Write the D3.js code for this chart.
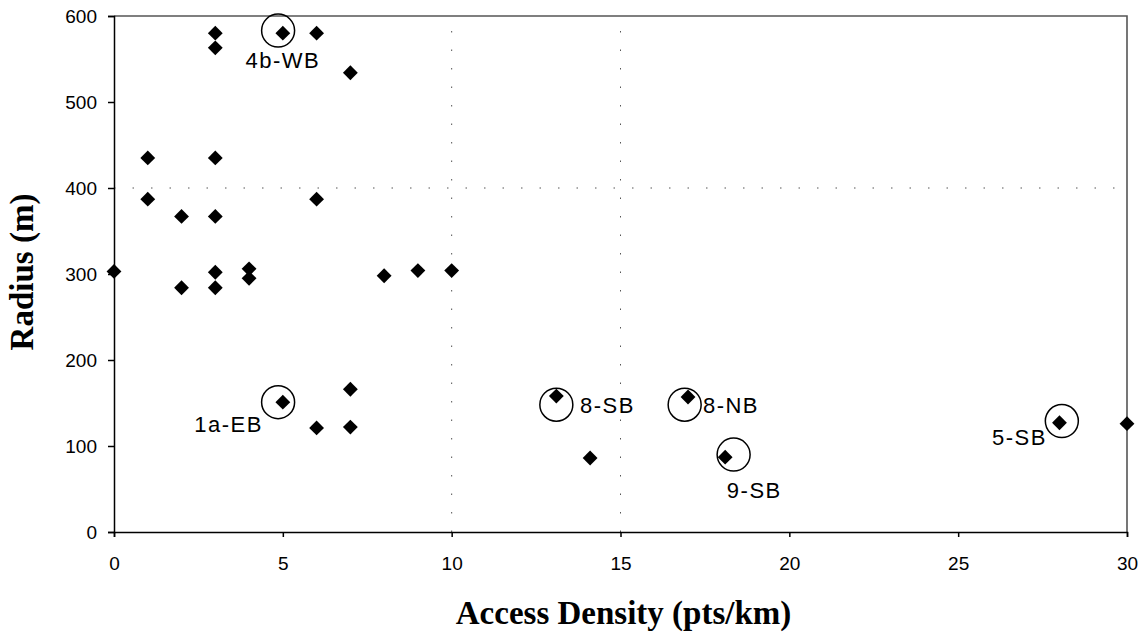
<!DOCTYPE html>
<meta charset="UTF-8">
<title>Radius vs Access Density</title>
<style>
  body { margin: 0; background: #fff; }
  .tick text { font-family: "Liberation Sans", Arial, sans-serif; font-size: 19px; fill: #000; }
  .lbl { font-family: "Liberation Sans", Arial, sans-serif; font-size: 22px; letter-spacing: 1.5px; }
  .title { font-family: "Liberation Serif", "Times New Roman", serif; font-weight: bold; font-size: 33px; }
</style>
<script src="https://d3js.org/d3.v7.min.js"></script>
<body>
<script>
  // access density (pts/km) and radius (m)
  var density = [0, 1, 1, 2, 2, 3, 3, 3, 3, 3, 3, 4, 4, 5, 6, 6, 7, 8, 9, 10,
                 5, 6, 7, 7, 13.1, 14.1, 17, 18.1, 28, 30];
  var radius  = [303, 435, 387, 367, 284, 580, 563, 435, 367, 302, 284, 306, 295, 580, 580, 387, 534, 298, 304, 304,
                 151, 121, 166, 122, 158, 86, 157, 87, 127, 126];

  // circled points: label, circle centre, label anchor (data units)
  var noteNames  = ["4b-WB", "1a-EB", "8-SB", "8-NB", "9-SB", "5-SB"];
  var noteCx     = [4.86, 4.86, 13.1, 16.9, 18.35, 28.07];
  var noteCy     = [583, 151, 148, 148, 90, 129];
  var noteTx     = [5.0, 4.41, 13.8, 17.44, 18.15, 27.63];
  var noteTy     = [540, 116, 138, 138, 40, 101];
  var noteAnchor = ["middle", "end", "start", "start", "start", "end"];

  var xTicks = [0, 5, 10, 15, 20, 25, 30];
  var yTicks = [0, 100, 200, 300, 400, 500, 600];
  var xGrid = [10, 15];
  var yGrid = [400];

  var width = 1145, height = 633;
  var margin = {top: 16, right: 18, bottom: 101, left: 114};

  var svg = d3.select("body").append("svg").attr("width", width).attr("height", height);

  var x = d3.scaleLinear().domain([0, 30]).range([margin.left, width - margin.right]);
  var y = d3.scaleLinear().domain([0, 600]).range([height - margin.bottom, margin.top]);

  // dotted gridlines
  svg.append("g").selectAll("line").data(yGrid).enter().append("line")
    .attr("x1", x(0)).attr("x2", x(30))
    .attr("y1", function(d) { return y(d); }).attr("y2", function(d) { return y(d); })
    .style("stroke", "#555").style("stroke-width", 1).style("stroke-dasharray", "1.5,17");
  svg.append("g").selectAll("line").data(xGrid).enter().append("line")
    .attr("y1", y(0)).attr("y2", y(600))
    .attr("x1", function(d) { return x(d); }).attr("x2", function(d) { return x(d); })
    .style("stroke", "#555").style("stroke-width", 1).style("stroke-dasharray", "1.5,17");

  // top / right border
  svg.append("path")
    .attr("d", "M" + x(0) + "," + y(600) + "H" + x(30) + "V" + y(0))
    .style("fill", "none").style("stroke", "#555").style("stroke-width", 1.6);

  svg.append("g")
    .attr("transform", "translate(0," + y(0) + ")")
    .call(d3.axisBottom(x).tickValues(xTicks).tickSize(5).tickPadding(20))
    .call(function(g) { g.selectAll("path, line").style("stroke", "#000").style("stroke-width", 1.5); });

  svg.append("g")
    .attr("transform", "translate(" + x(0) + ",0)")
    .call(d3.axisLeft(y).tickValues(yTicks).tickSize(6).tickPadding(11))
    .call(function(g) { g.selectAll("path, line").style("stroke", "#000").style("stroke-width", 1.5); });

  // points
  var diamond = d3.symbol().type(d3.symbolSquare).size(110);
  svg.append("g").selectAll("path").data(density).enter().append("path")
    .attr("d", diamond)
    .attr("transform", function(d, i) { return "translate(" + x(d) + "," + y(radius[i]) + ") rotate(45)"; })
    .style("fill", "#000");

  // circles and labels
  svg.append("g").selectAll("circle").data(noteNames).enter().append("circle")
    .attr("cx", function(d, i) { return x(noteCx[i]); })
    .attr("cy", function(d, i) { return y(noteCy[i]); })
    .attr("r", 16.5)
    .style("fill", "none").style("stroke", "#000").style("stroke-width", 1.5);

  svg.append("g").selectAll("text").data(noteNames).enter().append("text")
    .attr("class", "lbl")
    .attr("x", function(d, i) { return x(noteTx[i]); })
    .attr("y", function(d, i) { return y(noteTy[i]); })
    .attr("text-anchor", function(d, i) { return noteAnchor[i]; })
    .text(function(d) { return d; });

  svg.append("text").attr("class", "title")
    .attr("x", (x(0) + x(30)) / 2 + 3).attr("y", 624)
    .attr("text-anchor", "middle")
    .text("Access Density (pts/km)");

  svg.append("text").attr("class", "title")
    .attr("transform", "translate(33," + (y(300) - 2) + ") rotate(-90)")
    .attr("text-anchor", "middle")
    .text("Radius (m)");
</script>
</body>
